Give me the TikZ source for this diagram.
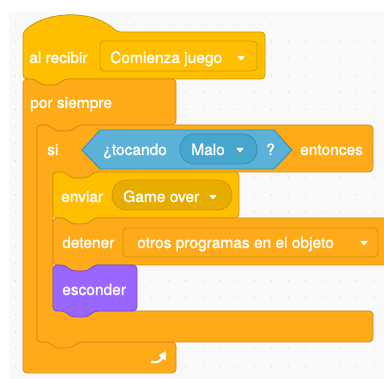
\documentclass[tikz,border=0pt]{standalone}
\usepackage{fontspec}
\setmainfont{TeX Gyre Heros}
\newfontfamily\blockfont{TeX Gyre Heros}[FakeBold=1.4]
\usetikzlibrary{arrows.meta}

\definecolor{evfill}{HTML}{FFBF00}
\definecolor{evdark}{HTML}{E6AC00}
\definecolor{evline}{HTML}{CC9900}
\definecolor{ctfill}{HTML}{FFAB19}
\definecolor{ctline}{HTML}{CF8B17}
\definecolor{snfill}{HTML}{5CB1D6}
\definecolor{sndark}{HTML}{47A6CE}
\definecolor{snline}{HTML}{2E8EB8}
\definecolor{lkfill}{HTML}{9966FF}
\definecolor{lkline}{HTML}{774DCB}
\definecolor{bggray}{HTML}{F9F9F9}
\definecolor{dotgray}{HTML}{DDDDDD}

% notch of a stack block, left to right and right to left
\newcommand{\notchLR}[2]{-- ({#1+12},#2) -- ({#1+18},{#2+6}) -- ({#1+35},{#2+6}) -- ({#1+41},#2)}
\newcommand{\notchRL}[2]{-- ({#1+41},#2) -- ({#1+35},{#2+6}) -- ({#1+18},{#2+6}) -- ({#1+12},#2)}
% small white dropdown triangle
\newcommand{\menuarrow}[2]{\fill[white, rounded corners=0.8] ({#1-4},{#2-2}) -- ({#1+4},{#2-2}) -- (#1,{#2+2.5}) -- cycle;}

\begin{document}
\begin{tikzpicture}[x=1pt, y=-1pt,
    evblock/.style={fill=evfill, draw=evline, line width=0.8pt, rounded corners=4},
    ctblock/.style={fill=ctfill, draw=ctline, line width=0.8pt, rounded corners=4},
    lkblock/.style={fill=lkfill, draw=lkline, line width=0.8pt, rounded corners=4},
    lbl/.style={text=white, inner sep=0pt, anchor=base west, font=\blockfont\fontsize{15.5}{18}\selectfont}]
  \useasboundingbox (0,0) rectangle (384,379);

  % workspace
  \fill[white] (0,0) rectangle (384,379);
  \fill[bggray] (9,12) rectangle (384,379);
  \foreach \i in {0,...,21}
    \foreach \j in {0,...,20}
      \fill[dotgray] ({15+17.1*\i},{24+17.1*\j}) circle (0.8);

  % al recibir
  \draw[evblock] (23,32) .. controls (48,10) and (94,10) .. (117,32) -- (265,32) -- (265,79)
    \notchRL{23}{79} -- (23,79) -- cycle;

  % por siempre
  \draw[ctblock] (23,79) \notchLR{23}{79} -- (176,79) -- (176,125) \notchRL{37}{125}
    -- (37,125) -- (37,342) -- (176,342) -- (176,373) -- (23,373) -- cycle;

  % si ... entonces
  \draw[ctblock] (37,125) \notchLR{37}{125} -- (373,125) -- (373,172) \notchRL{53}{172}
    -- (53,172) -- (53,311) -- (373,311) -- (373,342) \notchRL{37}{342} -- (37,342) -- cycle;

  % enviar
  \draw[evblock] (53,172) \notchLR{53}{172} -- (239,172) -- (239,218) \notchRL{53}{218} -- (53,218) -- cycle;

  % detener
  \draw[ctblock] (53,218) \notchLR{53}{218} -- (392,218) -- (392,265) \notchRL{53}{265} -- (53,265) -- cycle;

  % esconder
  \draw[lkblock] (53,265) \notchLR{53}{265} -- (137,265) -- (137,311) \notchRL{53}{311} -- (53,311) -- cycle;

  % inputs
  \draw[fill=evfill, draw=evline, line width=0.8pt, rounded corners=4] (100,41) rectangle (257,71);
  \draw[fill=snfill, draw=snline, line width=0.8pt] (82,150) -- (100,130) -- (274,130) -- (292,150)
    -- (274,169) -- (100,169) -- cycle;
  \draw[fill=sndark, draw=snline, line width=0.8pt, rounded corners=14.5] (180,134) rectangle (257,164);
  \draw[fill=evdark, draw=evline, line width=0.8pt, rounded corners=14.5] (112,180) rectangle (232,210);
  \draw[fill=ctfill, draw=ctline, line width=0.8pt, rounded corners=4] (123,228) rectangle (378,257);

  % texts
  \node[lbl] (hatlabel) at (29,63) {al recibir};
  \node[lbl] (hatmenu) at (110,63) {Comienza juego};
  \node[lbl] (foreverlabel) at (30,108) {por siempre};
  \node[lbl] (iflabel) at (47,155) {si};
  \node[lbl] (touchlabel) at (103,155) {¿tocando};
  \node[lbl] (touchmenu) at (191,155) {Malo};
  \node[lbl] (touchq) at (266,155) {?};
  \node[lbl] (thenlabel) at (300,155) {entonces};
  \node[lbl] (sendlabel) at (61,202) {enviar};
  \node[lbl] (sendmenu) at (123,202) {Game over};
  \node[lbl] (stoplabel) at (62,248) {detener};
  \node[lbl] (stopmenu) at (137,248) {otros programas en el objeto};
  \node[lbl] (hidelabel) at (62,295) {esconder};

  \menuarrow{241}{58}
  \menuarrow{240}{150}
  \menuarrow{213}{197}
  \menuarrow{364}{243}

  % loop arrow
  \draw[white, line width=2.2pt, line cap=round] (152,362) .. controls (157,363) and (161,361) .. (162,358);
  \fill[white, rounded corners=0.6] (158.5,355.5) -- (166,351) -- (165.5,360.5) -- cycle;
\end{tikzpicture}
\end{document}
